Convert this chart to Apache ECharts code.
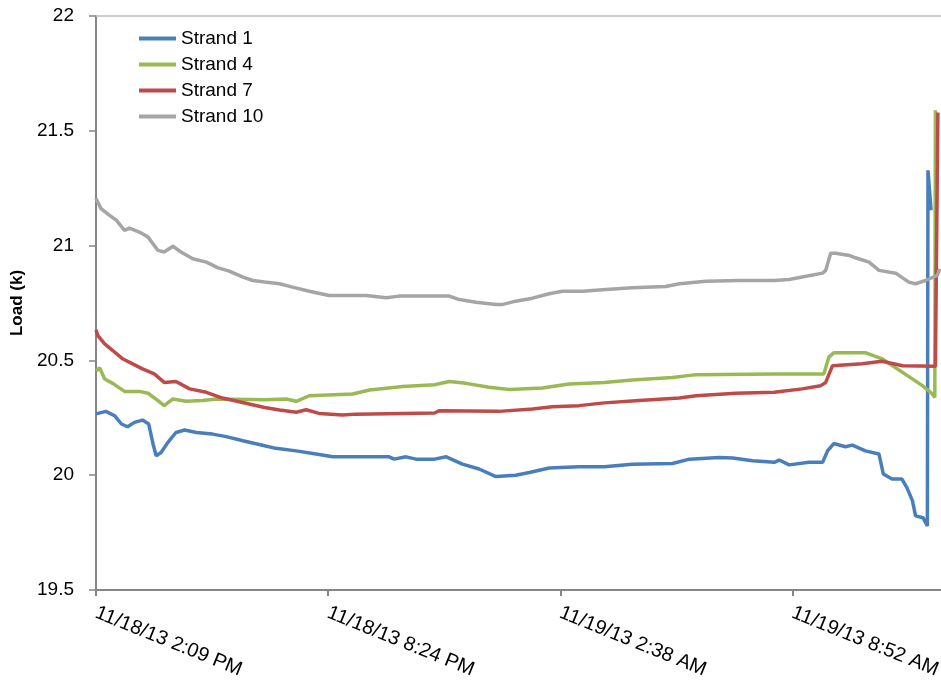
<!DOCTYPE html>
<html>
<head>
<meta charset="utf-8">
<script src="https://cdn.jsdelivr.net/npm/echarts@6/dist/echarts.min.js"></script>
<style>
html,body{margin:0;padding:0;background:#fff;}
#chart{width:941px;height:683px;}
</style>
</head>
<body>
<div id="chart"></div>
<script>
// x = minutes elapsed since the first sample (11/18/13 2:09 PM)
const tickLabels = ['11/18/13 2:09 PM', '11/18/13 8:24 PM', '11/19/13 2:38 AM', '11/19/13 8:52 AM'];
const tickIntervalMin = 374.5;
const seriesNames = ['Strand 1', 'Strand 4', 'Strand 7', 'Strand 10'];
const seriesColors = ['#4A7EBB', '#98B954', '#BE4B48', '#A5A5A5'];

const strand1 = [[0,20.267],[16,20.278],[30,20.259],[41,20.223],[51,20.211],[62,20.230],[75,20.240],[85,20.223],[92,20.136],[97,20.085],[105,20.099],[116,20.143],[129,20.186],[143,20.197],[162,20.186],[188,20.179],[210,20.168],[237,20.150],[272,20.128],[290,20.117],[323,20.106],[355,20.092],[382,20.080],[473,20.080],[481,20.070],[500,20.080],[516,20.070],[546,20.070],[565,20.080],[591,20.048],[618,20.027],[645,19.994],[677,20.000],[699,20.012],[731,20.031],[779,20.037],[820,20.037],[865,20.048],[930,20.051],[957,20.070],[1005,20.077],[1027,20.075],[1059,20.063],[1094,20.056],[1102,20.066],[1118,20.045],[1150,20.056],[1172,20.056],[1180,20.106],[1190,20.138],[1209,20.124],[1220,20.131],[1241,20.106],[1263,20.092],[1270,20.005],[1284,19.983],[1300,19.983],[1308,19.946],[1317,19.888],[1322,19.823],[1334,19.815],[1341,19.779],[1342,21.328],[1347,21.154]];

const strand4 = [[0,20.455],[6,20.467],[14,20.419],[27,20.400],[46,20.365],[70,20.365],[84,20.357],[100,20.325],[110,20.303],[124,20.332],[145,20.322],[172,20.325],[194,20.332],[272,20.329],[307,20.332],[323,20.322],[344,20.346],[414,20.354],[441,20.371],[495,20.386],[546,20.394],[570,20.408],[597,20.400],[634,20.383],[667,20.373],[720,20.380],[763,20.397],[820,20.404],[865,20.415],[930,20.426],[968,20.438],[1094,20.441],[1174,20.441],[1182,20.514],[1190,20.533],[1242,20.533],[1268,20.507],[1301,20.448],[1333,20.390],[1349,20.354],[1353,20.339],[1354,21.59]];

const strand7 = [[0,20.633],[3,20.608],[14,20.572],[27,20.543],[43,20.507],[59,20.485],[75,20.463],[94,20.441],[110,20.404],[129,20.408],[151,20.376],[178,20.361],[204,20.336],[231,20.320],[272,20.295],[296,20.284],[323,20.274],[339,20.285],[360,20.269],[398,20.262],[419,20.266],[546,20.271],[554,20.281],[650,20.278],[704,20.288],[736,20.298],[779,20.303],[820,20.315],[876,20.325],[941,20.336],[968,20.346],[1032,20.357],[1094,20.361],[1139,20.376],[1169,20.390],[1177,20.404],[1188,20.477],[1236,20.485],[1268,20.496],[1301,20.477],[1354,20.474],[1358,21.58]];

const strand10 = [[0,21.205],[8,21.161],[22,21.132],[33,21.110],[46,21.066],[54,21.076],[70,21.059],[84,21.037],[100,20.979],[110,20.972],[124,20.997],[137,20.972],[156,20.943],[178,20.928],[196,20.904],[215,20.889],[237,20.863],[253,20.848],[272,20.841],[296,20.834],[317,20.819],[344,20.801],[376,20.783],[436,20.783],[468,20.773],[489,20.780],[570,20.780],[586,20.765],[613,20.753],[645,20.743],[655,20.743],[677,20.758],[704,20.771],[731,20.790],[752,20.801],[785,20.801],[817,20.808],[865,20.816],[919,20.822],[941,20.834],[984,20.845],[1037,20.848],[1094,20.848],[1118,20.852],[1139,20.863],[1172,20.880],[1177,20.892],[1185,20.967],[1193,20.967],[1215,20.957],[1225,20.947],[1247,20.928],[1263,20.892],[1290,20.880],[1311,20.841],[1322,20.834],[1338,20.848],[1357,20.870],[1361,20.899]];

const allData = [strand1, strand4, strand7, strand10];
const FONT = '"Liberation Sans", Arial, sans-serif';
const xMax = 1363;

const chart = echarts.init(document.getElementById('chart'), null, {renderer: 'canvas'});
chart.setOption({
  animation: false,
  backgroundColor: '#ffffff',
  grid: {left: 96, right: 0, top: 16, bottom: 93, containLabel: false, outerBoundsMode: 'none'},
  legend: {
    orient: 'vertical', left: 134, top: 24,
    icon: 'rect', itemWidth: 37, itemHeight: 4, itemGap: 7,
    textStyle: {fontFamily: FONT, fontSize: 19, color: '#000'},
    data: seriesNames
  },
  xAxis: [{
    type: 'value', min: 0, max: xMax, interval: tickIntervalMin,
    splitLine: {show: false},
    axisLine: {lineStyle: {color: '#868686', width: 2}},
    axisTick: {length: 6, lineStyle: {color: '#868686', width: 2}},
    axisLabel: {
      rotate: -22, margin: 22, showMaxLabel: false, hideOverlap: false,
      fontFamily: FONT, fontSize: 20, color: '#000',
      formatter: function (v) {
        const i = Math.round(v / tickIntervalMin);
        return Math.abs(v - i * tickIntervalMin) < 1 && tickLabels[i] ? tickLabels[i] : '';
      }
    }
  }, {
    type: 'value', position: 'top', min: 0, max: xMax,
    splitLine: {show: false},
    axisLine: {show: true, lineStyle: {color: '#BDBDBD', width: 1.5}},
    axisTick: {show: false}, axisLabel: {show: false}
  }],
  yAxis: {
    type: 'value', min: 19.5, max: 22, interval: 0.5,
    name: 'Load (k)', nameLocation: 'middle', nameGap: 68,
    nameTextStyle: {fontFamily: FONT, fontSize: 17, fontWeight: 'bold', color: '#000'},
    splitLine: {show: false},
    axisLine: {show: true, lineStyle: {color: '#868686', width: 2}},
    axisTick: {show: true, length: 7, lineStyle: {color: '#868686', width: 1.5}},
    axisLabel: {margin: 22, fontFamily: FONT, fontSize: 19, color: '#000',
      formatter: function (v) { return String(Math.round(v * 10) / 10); }}
  },
  series: seriesNames.map(function (name, k) {
    return {
      name: name, type: 'line', data: allData[k],
      xAxisIndex: 0, symbol: 'none', showSymbol: false,
      lineStyle: {color: seriesColors[k], width: 3.5},
      itemStyle: {color: seriesColors[k]},
      z: 2 + k
    };
  })
});
</script>
</body>
</html>
